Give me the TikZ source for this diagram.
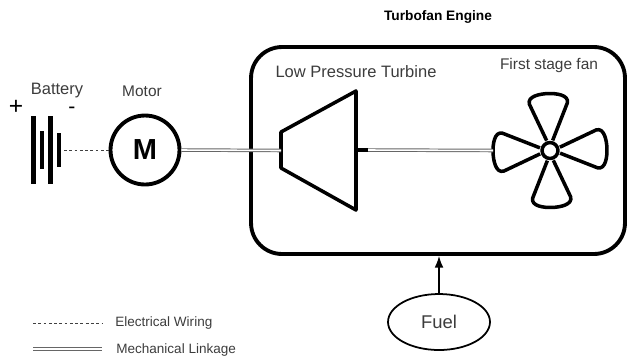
\documentclass[tikz,border=0pt]{standalone}
\usepackage{fontspec}
\setmainfont{Liberation Sans}
\usetikzlibrary{calc,arrows.meta,shapes.geometric}
\definecolor{labelgray}{HTML}{3C3C3C}
\tikzset{
  wiring/.style={line width=0.5pt,black!75,dash pattern=on 1.6pt off 1.4pt},
  linkage/.style={double=white,double distance=0.9pt,line width=0.55pt,black!60},
  label text/.style={inner sep=0pt,text=labelgray,font=\fontsize{9.4}{10}\selectfont},
  small label/.style={inner sep=0pt,text=labelgray,font=\fontsize{8.8}{10}\selectfont},
  legend text/.style={inner sep=0pt,anchor=west,text=labelgray,font=\fontsize{7.7}{8}\selectfont},
  heavy/.style={line width=2.2pt,black,line join=round}
}
\begin{document}
\begin{tikzpicture}[>=Latex,x=0.02cm,y=-0.02cm]
  \useasboundingbox (0,0) rectangle (628,360);
  % Engine casing
  \node[draw,heavy,rounded corners=0.62cm,minimum width=7.48cm,minimum height=4.14cm,inner sep=0pt] (engine) at (438,150.5) {};
  \node[inner sep=0pt,font=\fontsize{7.8}{10}\selectfont\bfseries] (title) at (438,17) {Turbofan Engine};
  \node[label text] (lpt) at (356,72) {Low Pressure Turbine};
  \node[small label] (fanlabel) at (549,65) {First stage fan};
  % Battery plates
  \foreach \px/\py in {33.5/34,42/19,50.5/34,59/17}{
    \draw[black,line width=2.8pt] (\px,150-\py)--(\px,150+\py);
  }
  \coordinate (battery) at (64,150);
  \node[label text] (batterylabel) at (57,91) {Battery};
  \node[inner sep=0pt,font=\fontsize{14}{14}\selectfont] (plus) at (16,107) {+};
  \node[inner sep=0pt,font=\fontsize{12}{12}\selectfont] (minus) at (72,110) {-};
  % Motor
  \node[draw,heavy,circle,minimum size=1.38cm,inner sep=0pt,font=\fontsize{16.5}{16}\selectfont\bfseries] (motor) at (145,150) {M};
  \node[small label] (motorlabel) at (142,91) {Motor};
  \draw[wiring] (battery)--(motor.west);
  % Turbine
  \coordinate (turbinein) at (281,150.5);
  \coordinate (turbineout) at (356,150);
  \coordinate (stub) at (368,150);
  \draw[heavy,line width=2pt] (281,132)--(356,91)--(356,210)--(281,168)--cycle;
  \draw[heavy,line width=2pt] (turbineout)--(stub);
  \draw[linkage] (motor.east)--(turbinein);
  % Fan, one blade turned four times
  \node[draw,heavy,line width=2pt,circle,minimum size=0.32cm,inner sep=0pt] (hub) at (550,150.5) {};
  \foreach \a in {2,92,182,272}{
    \draw[heavy,line width=2pt,rotate around={\a:(hub)},shift={(hub)}]
      (10,-3) -- (47,-19) .. controls (55,-21) and (57,-8) .. (57,0)
      .. controls (57,8) and (55,21) .. (47,19) -- (10,3);
  }
  \coordinate (fanedge) at (493,150.5);
  \draw[linkage] (stub)--(fanedge);
  % Fuel
  \node[draw,ellipse,line width=1pt,minimum width=2.04cm,minimum height=1.12cm,inner sep=0pt,text=labelgray,font=\fontsize{10.5}{12}\selectfont] (fuel) at (439,322) {Fuel};
  \draw[->,line width=0.8pt] (fuel.north)--(fuel.north|-engine.south);
  % Legend
  \coordinate (wirestart) at (33,323);
  \coordinate (wireend) at (102,323);
  \coordinate (linkstart) at (33,349);
  \coordinate (linkend) at (102,349);
  \draw[wiring] (wirestart)--(wireend);
  \draw[linkage] (linkstart)--(linkend);
  \node[legend text] (wirelabel) at (115,323) {Electrical Wiring};
  \node[legend text] (linklabel) at (116,350) {Mechanical Linkage};
\end{tikzpicture}
\end{document}
